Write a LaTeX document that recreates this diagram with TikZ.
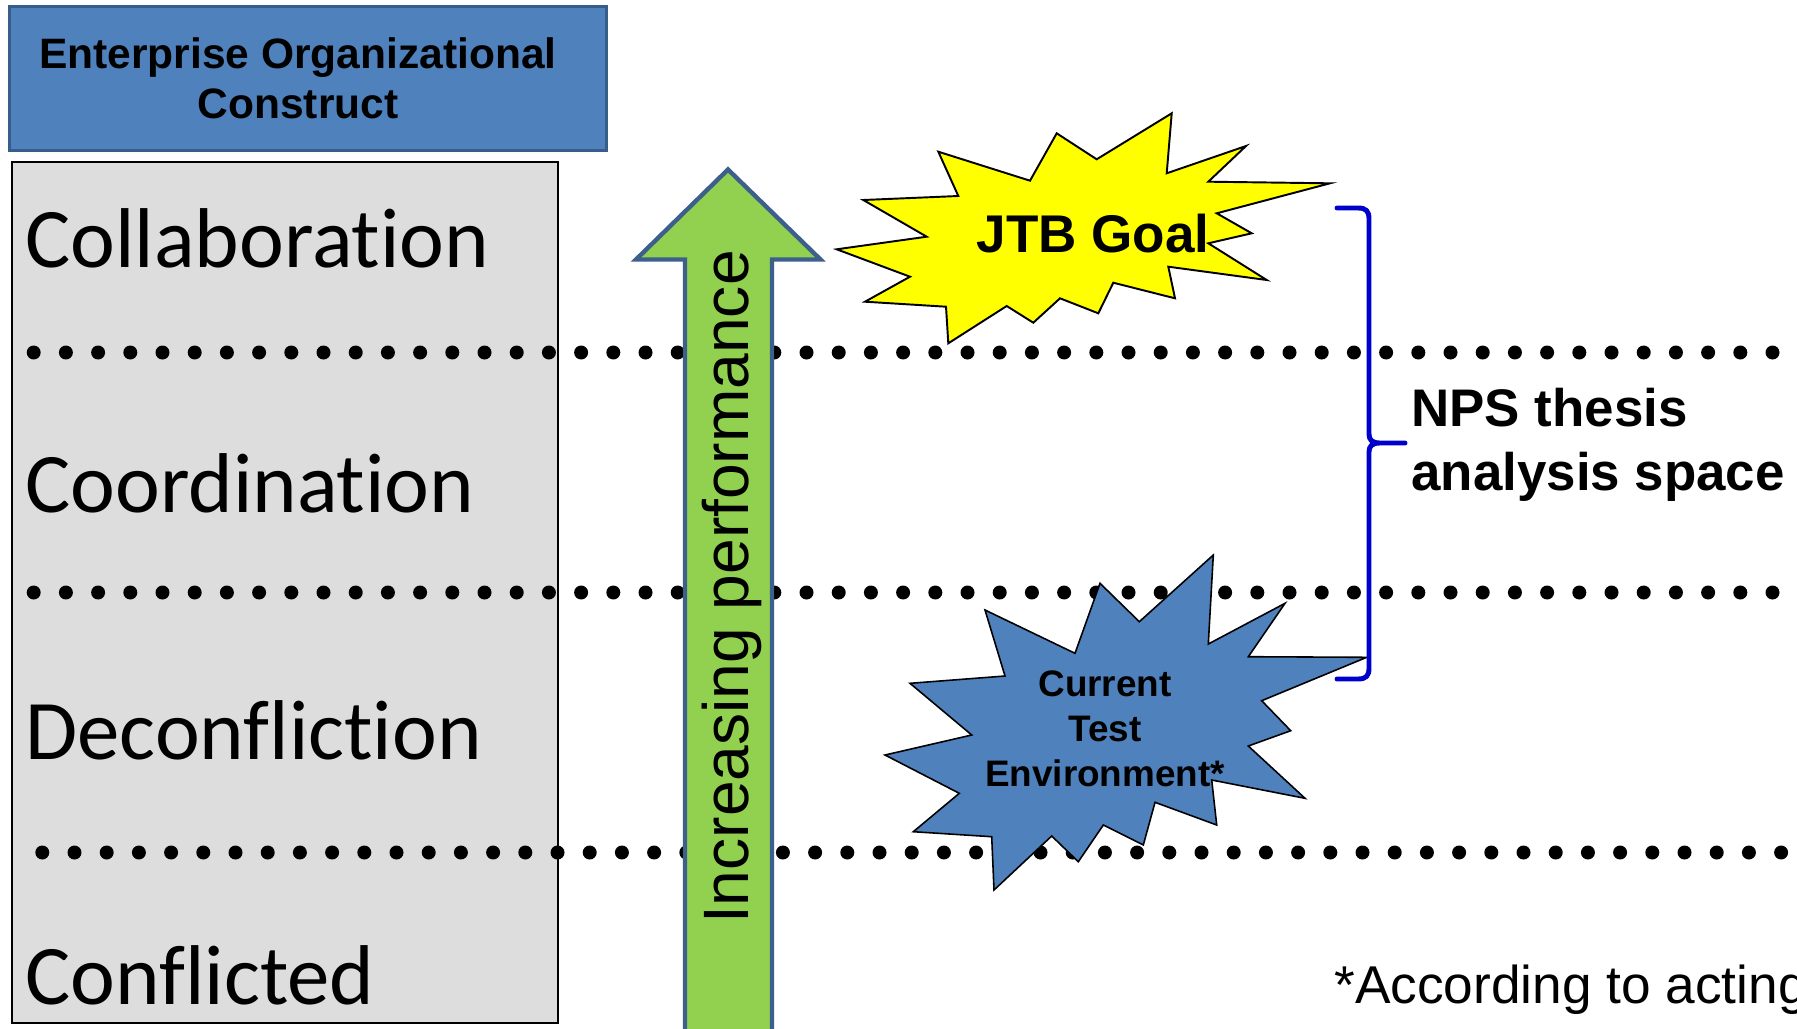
\documentclass[tikz,border=0pt]{standalone}
\usepackage{fontspec}
\setmainfont{Liberation Sans}
\newfontfamily\levelfont[Ligatures={NoCommon,NoRare}]{Carlito}

\definecolor{hdrblue}{HTML}{4F81BD}
\definecolor{hdredge}{HTML}{385D8A}
\definecolor{levelgray}{HTML}{DDDDDD}
\definecolor{arrowgreen}{HTML}{92D050}
\definecolor{arrowedge}{HTML}{3C5F8C}
\definecolor{braceblue}{HTML}{0000CC}
\definecolor{burstyellow}{HTML}{FFFF00}

\begin{document}
\begin{tikzpicture}[x=0.02cm, y=-0.02cm,
  headerbox/.style={draw=hdredge, line width=1.7pt, fill=hdrblue,
    minimum width=11.96cm, minimum height=2.9cm, inner sep=0},
  headertext/.style={font=\bfseries\fontsize{24.2}{28.3}\selectfont,
    align=center, inner sep=0},
  levelbox/.style={draw=black, line width=1.1pt, fill=levelgray,
    minimum width=10.93cm, minimum height=17.24cm, inner sep=0},
  leveltext/.style={font=\levelfont\fontsize{48.3}{57}\selectfont,
    anchor=base west, inner sep=0},
  dotmark/.style={fill=black},
  perfarrow/.style={draw=arrowedge, line width=2.5pt, fill=arrowgreen,
    line join=miter},
  perftext/.style={font=\fontsize{36.5}{42}\selectfont, rotate=90,
    anchor=base, inner sep=0},
  goalburst/.style={draw=black, line width=1.1pt, fill=burstyellow},
  testburst/.style={draw=black, line width=0.9pt, fill=hdrblue},
  bursttext/.style={font=\bfseries, align=center, inner sep=0},
  bracestroke/.style={draw=braceblue, line width=2.8pt, line cap=round,
    line join=round},
  bracetext/.style={font=\bfseries\fontsize{30.1}{36.3}\selectfont,
    align=left, anchor=west, inner sep=0},
  notetext/.style={font=\fontsize{30.3}{34}\selectfont, anchor=base west,
    inner sep=0}]

\useasboundingbox (0,0) rectangle (1797,1028);
\clip (0,0) rectangle (1797,1028);
\fill[white] (0,0) rectangle (1797,1028);

% level column and its heading
\node[levelbox] (levels) at (284.75,592.5) {};
\node[headerbox] (hdr) at (308,78.5) {};
\node[headertext] (hdrtext) at (298,78) {Enterprise Organizational\\Construct};

% dotted separators between the levels
\foreach \n in {0,...,54} {
  \fill[dotmark] (33.7+32.2*\n,352.5) circle[radius=0.14cm];
  \fill[dotmark] (33.7+32.2*\n,592.5) circle[radius=0.14cm];
  \fill[dotmark] (42.3+32.2*\n,852.5) circle[radius=0.14cm];
}

\node[leveltext] (collab) at (25,267) {Collaboration};
\node[leveltext] (coord) at (25,512) {Coordination};
\node[leveltext] (deconf) at (25,759) {Deconfliction};
\node[leveltext] (confl) at (25,1004) {Conflicted};

% upward performance arrow
\draw[perfarrow] (685,1045) -- (685,259.5) -- (636,259.5) -- (728,169.5)
  -- (820.5,259.5) -- (772,259.5) -- (772,1045) -- cycle;
\node[perftext] (perf) at (748,587) {Increasing performance};

% goal burst
\draw[goalburst] (836.7,249.3) -- (926.7,236.7) -- (863.3,200) -- (958.3,196)
  -- (938.3,151.7) -- (1030,180.7) -- (1056.7,133.3) -- (1096.7,159.3)
  -- (1171.7,113.3) -- (1166.7,173.3) -- (1246,146) -- (1208.3,181.7)
  -- (1330,183.3) -- (1216.7,213.3) -- (1251.7,233.3) -- (1208.3,243.3)
  -- (1266.7,280) -- (1168.3,266.7) -- (1175,298.3) -- (1113.3,282.7)
  -- (1098.3,313.3) -- (1060,298.3) -- (1033.3,322.7) -- (1006.7,306)
  -- (948.3,343.3) -- (946,306.7) -- (865,301.7) -- (910,276.7) -- cycle;
\node[bursttext, font=\bfseries\fontsize{30.2}{35}\selectfont, anchor=base]
  (goal) at (1093,252) {JTB Goal};

% current test environment burst
\draw[testburst] (885,755) -- (971.7,735) -- (910,683.3) -- (1005,676)
  -- (985,610) -- (1075,653.3) -- (1100,583.3) -- (1139.3,621.7)
  -- (1213.3,555) -- (1208.3,644) -- (1285,603.3) -- (1248.3,656.7)
  -- (1366.7,657.3) -- (1261.7,700.7) -- (1290.7,730.7) -- (1248.3,746)
  -- (1305,798.3) -- (1211.7,780) -- (1216.7,825) -- (1155,802.3)
  -- (1143.3,845) -- (1103.3,825) -- (1078.3,861.7) -- (1051.7,836)
  -- (994,890) -- (991.7,836.7) -- (913.3,831.7) -- (959.3,793.3) -- cycle;
\node[bursttext, font=\bfseries\fontsize{21}{25.5}\selectfont]
  (current) at (1105,729) {Current\\Test\\Environment*};

% brace marking the analysis space
\draw[bracestroke] (1337,208) -- (1358,208)
  .. controls (1366,208) and (1369,211) .. (1369,219) -- (1369,434)
  .. controls (1369,440) and (1372,443) .. (1380,443) -- (1405,443)
  -- (1380,443) .. controls (1372,443) and (1369,446) .. (1369,452)
  -- (1369,668) .. controls (1369,676) and (1366,679) .. (1358,679)
  -- (1337,679);
\node[bracetext] (nps) at (1411,444.5) {NPS thesis\\analysis space};

% footnote
\node[notetext] (note) at (1334,1003) {*According to acting};

\end{tikzpicture}
\end{document}
